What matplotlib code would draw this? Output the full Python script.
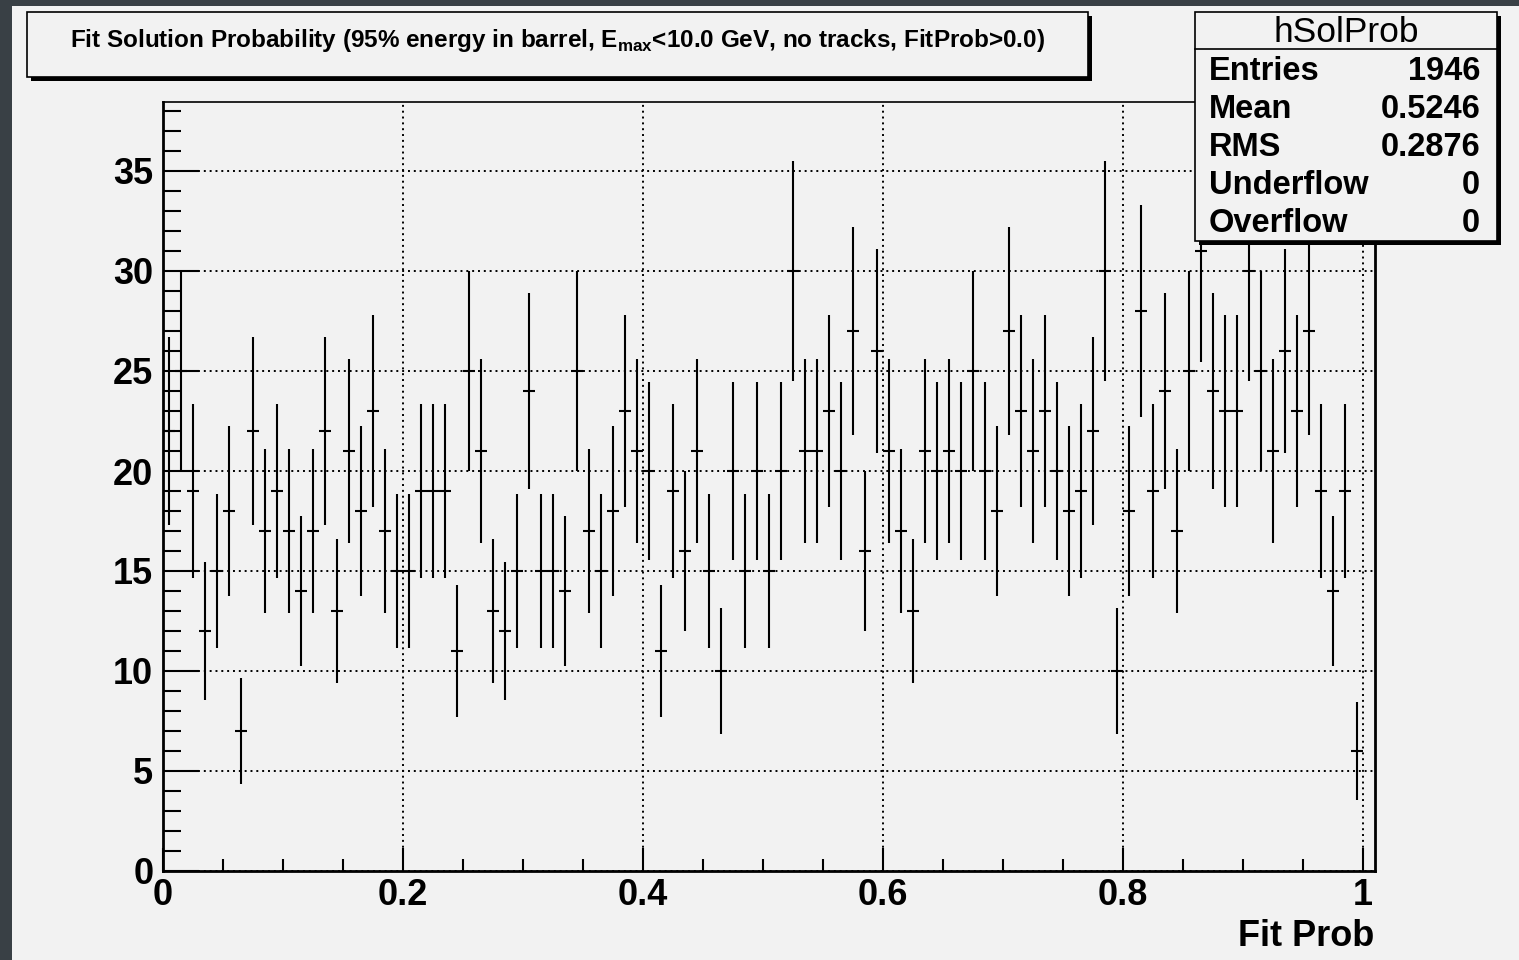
import numpy as np
import matplotlib
matplotlib.use('Agg')
import matplotlib.pyplot as plt
from matplotlib.patches import Rectangle
from matplotlib.lines import Line2D
from matplotlib.ticker import MultipleLocator

W, H = 1519, 960

# bin contents of hSolProb, 100 bins of width 0.01 from 0 to 1
counts = [22, 25, 19, 12, 15, 18, 7, 22, 17, 19,
          17, 14, 17, 22, 13, 21, 18, 23, 17, 15,
          15, 19, 19, 19, 11, 25, 21, 13, 12, 15,
          24, 15, 15, 14, 25, 17, 15, 18, 23, 21,
          20, 11, 19, 16, 21, 15, 10, 20, 15, 20,
          15, 20, 30, 21, 21, 23, 20, 27, 16, 26,
          21, 17, 13, 21, 20, 21, 20, 25, 20, 18,
          27, 23, 21, 23, 20, 18, 19, 22, 30, 10,
          18, 28, 19, 24, 17, 25, 31, 24, 23, 23,
          30, 25, 21, 26, 23, 27, 19, 14, 19, 6]
bin_width = 0.01

x_ticks = [0, 0.2, 0.4, 0.6, 0.8, 1.0]
x_tick_labels = ['0', '0.2', '0.4', '0.6', '0.8', '1']
y_ticks = [0, 5, 10, 15, 20, 25, 30, 35]
y_tick_labels = ['0', '5', '10', '15', '20', '25', '30', '35']

title = (r'Fit Solution Probability (95% energy in barrel, '
         r'E$_{\mathrm{max}}$<10.0 GeV, no tracks, FitProb>0.0)')
x_label = 'Fit Prob'
stats_name = 'hSolProb'
stats_labels = ['Entries', 'Mean', 'RMS', 'Underflow', 'Overflow']
stats_values = ['1946', '0.5246', '0.2876', '0', '0']

BG = '#f2f2f2'
DARK = '#394045'

plt.rcParams['font.family'] = ['Liberation Sans', 'DejaVu Sans']
plt.rcParams['font.weight'] = 'bold'
plt.rcParams['mathtext.fontset'] = 'custom'
plt.rcParams['mathtext.rm'] = 'Liberation Sans:bold'
plt.rcParams['mathtext.bf'] = 'Liberation Sans:bold'


def fx(px):
    return px / W


def fy(py):
    return 1 - py / H


def box(fig, x0, y0, x1, y1, shadow=4):
    # ROOT style pave: black shadow offset to lower right, then the box
    fig.add_artist(Rectangle((fx(x0 + shadow), fy(y1 + shadow)), (x1 - x0) / W, (y1 - y0) / H,
                             transform=fig.transFigure, facecolor='black', edgecolor='none', zorder=5))
    fig.add_artist(Rectangle((fx(x0), fy(y1)), (x1 - x0) / W, (y1 - y0) / H,
                             transform=fig.transFigure, facecolor=BG, edgecolor='black',
                             linewidth=1.2, zorder=6))


def main():
    fig = plt.figure(figsize=(W / 100, H / 100), dpi=100, facecolor=BG)

    # dark window border on the left and top
    fig.add_artist(Rectangle((0, 0), fx(12), 1, transform=fig.transFigure,
                             facecolor=DARK, edgecolor='none', zorder=0))
    fig.add_artist(Rectangle((0, fy(6)), 1, 6 / H, transform=fig.transFigure,
                             facecolor=DARK, edgecolor='none', zorder=0))

    ax = fig.add_axes([fx(163), fy(871), (1375 - 163) / W, (871 - 102) / H])
    ax.set_facecolor(BG)

    centers = np.arange(len(counts)) * bin_width + bin_width / 2
    vals = np.array(counts, dtype=float)
    ax.errorbar(centers, vals, xerr=bin_width / 2, yerr=np.sqrt(vals), fmt='none',
                ecolor='black', elinewidth=1.5, capsize=0, zorder=3)

    ax.set_xlim(0, 1.01)
    ax.set_ylim(0, 38.45)
    ax.set_xticks(x_ticks)
    ax.set_xticklabels(x_tick_labels)
    ax.set_yticks(y_ticks)
    ax.set_yticklabels(y_tick_labels)
    ax.xaxis.set_minor_locator(MultipleLocator(0.05))
    ax.yaxis.set_minor_locator(MultipleLocator(1))

    ax.tick_params(axis='x', which='major', direction='in', length=16.5, width=1.5,
                   top=False, labelsize=26, pad=5)
    ax.tick_params(axis='x', which='minor', direction='in', length=8.6, width=1.5, top=False)
    ax.tick_params(axis='y', which='major', direction='in', length=26, width=1.5,
                   right=False, labelsize=26, pad=7)
    ax.tick_params(axis='y', which='minor', direction='in', length=13, width=1.5, right=False)

    ax.grid(True, which='major', color='black', linestyle=(0, (1, 2)), linewidth=1.4)

    for side in ['left', 'bottom', 'right']:
        ax.spines[side].set_linewidth(2)
    ax.spines['top'].set_linewidth(1.2)

    fig.text(fx(1374), fy(946), x_label, ha='right', va='baseline', fontsize=26)

    # title pave
    box(fig, 27, 12, 1088, 77)
    fig.text(fx(557), fy(47), title, ha='center', va='baseline', fontsize=17.5, zorder=7)

    # stats pave
    box(fig, 1195, 12, 1497, 241)
    fig.add_artist(Line2D([fx(1195), fx(1497)], [fy(49), fy(49)], transform=fig.transFigure,
                          color='black', linewidth=1.2, zorder=7))
    fig.text(fx(1346), fy(42), stats_name, ha='center', va='baseline', fontsize=25.5,
             fontweight='normal', zorder=7)
    for i in range(len(stats_labels)):
        base = 80 + 38 * i
        fig.text(fx(1209), fy(base), stats_labels[i], ha='left', va='baseline',
                 fontsize=23.5, zorder=7)
        fig.text(fx(1480), fy(base), stats_values[i], ha='right', va='baseline',
                 fontsize=23.5, zorder=7)

    fig.savefig('out.png', dpi=100, facecolor=BG)
    plt.close(fig)


if __name__ == "__main__":
    main()
